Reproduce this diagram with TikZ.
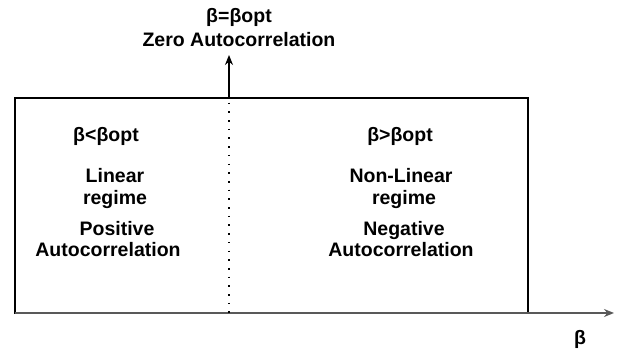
\documentclass[tikz,border=0pt]{standalone}
\usepackage{fontspec}
\setmainfont{Liberation Sans}
\usetikzlibrary{arrows.meta}
\tikzset{
  lbl/.style={inner sep=0pt, anchor=base, font=\fontsize{19.5pt}{22pt}\selectfont\bfseries},
  boxline/.style={draw=black, line width=1.2pt},
  axisline/.style={draw=black!65, line width=1.6pt, -{Stealth[length=10pt,width=8pt]}},
  uparrow/.style={draw=black, line width=1.2pt, -{Stealth[length=10pt,width=8pt]}},
  dotline/.style={draw=black, line width=1.8pt, dash pattern=on 1.6pt off 7.1pt}
}
\begin{document}
\begin{tikzpicture}[x=1pt,y=-1pt]
\useasboundingbox (0,0) rectangle (621,352);
% box
\coordinate (tl) at (15,98);
\coordinate (br) at (528,313);
\draw[boxline] (tl) rectangle (br);
% axis
\coordinate (ax0) at (15,313);
\coordinate (ax1) at (614,313);
\draw[axisline] (ax0) -- (ax1);
% divider
\coordinate (dtop) at (229,98);
\coordinate (dbot) at (229,313);
\coordinate (dtip) at (229,55);
\draw[dotline] ([yshift=4pt]dtop) -- (dbot);
\draw[uparrow] (dtop) -- (dtip);
% top labels
\node[lbl] (t1) at (239,23) {β=βopt};
\node[lbl] (t2) at (239,47) {Zero Autocorrelation};
% left
\node[lbl] (l0) at (106,142) {β<βopt};
\node[lbl] (l1) at (115,183) {Linear};
\node[lbl] (l2) at (115,205) {regime};
\node[lbl] (l3) at (117,236) {Positive};
\node[lbl] (l4) at (108,257) {Autocorrelation};
% right
\node[lbl] (r0) at (400,142) {β>βopt};
\node[lbl] (r1) at (401,183) {Non-Linear};
\node[lbl] (r2) at (404,205) {regime};
\node[lbl] (r3) at (404,236) {Negative};
\node[lbl] (r4) at (401,257) {Autocorrelation};
% beta
\node[lbl] (b) at (580,345) {β};
\end{tikzpicture}
\end{document}
